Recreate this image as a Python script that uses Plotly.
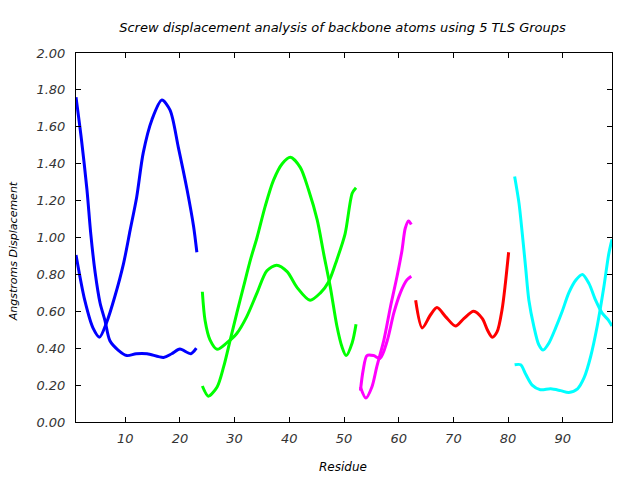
import plotly.graph_objects as go

# Group 1 (blue)
g1a_x = [1.0, 2.0, 3.0, 3.7, 4.5, 5.4, 6.3, 7.2, 8.7, 10.3, 12.0, 14.0, 17.0, 18.5, 20.0, 22.0, 23.0]
g1a_y = [1.76, 1.53, 1.26, 1.02, 0.81, 0.645, 0.55, 0.44, 0.39, 0.36, 0.37, 0.37, 0.35, 0.37, 0.395, 0.37, 0.40]
g1b_x = [1.0, 2.6, 4.1, 5.3, 6.6, 8.1, 9.7, 10.9, 12.1, 13.3, 14.9, 16.7, 18.2, 19.7, 21.3, 22.5, 23.1]
g1b_y = [0.905, 0.66, 0.51, 0.46, 0.54, 0.68, 0.86, 1.04, 1.22, 1.46, 1.64, 1.745, 1.69, 1.49, 1.26, 1.06, 0.92]

# Group 2 (green)
g2a_x = [24.1, 24.6, 25.5, 26.8, 28.6, 30.4, 32.2, 34.1, 35.9, 37.7, 39.6, 41.4, 43.8, 45.7, 47.2, 48.7, 50.2, 51.5, 52.2]
g2a_y = [0.706, 0.55, 0.445, 0.394, 0.43, 0.48, 0.57, 0.70, 0.82, 0.85, 0.815, 0.73, 0.66, 0.70, 0.76, 0.88, 1.02, 1.24, 1.27]
g2b_x = [24.1, 25.2, 26.8, 28.0, 29.2, 30.4, 31.6, 32.9, 34.1, 35.6, 37.1, 38.7, 40.2, 42.0, 43.5, 45.1, 46.3, 47.5, 48.7, 49.6, 50.4, 51.5, 52.2]
g2b_y = [0.195, 0.14, 0.19, 0.30, 0.445, 0.59, 0.73, 0.88, 1.00, 1.17, 1.31, 1.40, 1.435, 1.38, 1.26, 1.095, 0.91, 0.73, 0.52, 0.41, 0.36, 0.43, 0.53]

# Group 3 (magenta)
g3a_x = [53.0, 53.5, 54.2, 55.4, 56.6, 57.9, 59.1, 60.3, 61.5, 62.3]
g3a_y = [0.17, 0.28, 0.36, 0.36, 0.345, 0.44, 0.59, 0.70, 0.77, 0.79]
g3b_x = [53.0, 54.0, 55.1, 56.0, 57.3, 58.5, 59.7, 60.6, 61.2, 61.8, 62.3]
g3b_y = [0.19, 0.13, 0.19, 0.30, 0.445, 0.625, 0.79, 0.93, 1.05, 1.09, 1.07]

# Group 4 (red)
g4_x = [63.1, 64.3, 65.8, 67.0, 68.6, 70.4, 71.9, 73.7, 75.3, 76.2, 77.1, 78.0, 78.9, 79.5, 80.1]
g4_y = [0.66, 0.51, 0.58, 0.62, 0.57, 0.52, 0.56, 0.60, 0.56, 0.50, 0.46, 0.49, 0.61, 0.75, 0.92]

# Group 5 (cyan)
g5a_x = [81.2, 82.0, 82.6, 83.2, 83.8, 84.7, 85.6, 86.4, 87.5, 88.7, 89.9, 91.1, 92.4, 93.6, 94.8, 96.0, 97.2, 98.4, 99.0]
g5a_y = [1.33, 1.185, 1.02, 0.84, 0.66, 0.52, 0.42, 0.39, 0.43, 0.51, 0.60, 0.70, 0.77, 0.80, 0.75, 0.66, 0.59, 0.55, 0.52]
g5b_x = [81.2, 82.3, 83.2, 84.4, 85.9, 87.8, 89.6, 91.1, 92.7, 93.9, 95.1, 96.3, 97.5, 98.4, 99.0]
g5b_y = [0.31, 0.31, 0.26, 0.20, 0.175, 0.18, 0.17, 0.16, 0.18, 0.24, 0.355, 0.52, 0.73, 0.91, 0.99]

series = [
    (g1a_x, g1a_y, "#0000ff"), (g1b_x, g1b_y, "#0000ff"),
    (g2a_x, g2a_y, "#00ff00"), (g2b_x, g2b_y, "#00ff00"),
    (g3a_x, g3a_y, "#ff00ff"), (g3b_x, g3b_y, "#ff00ff"),
    (g4_x, g4_y, "#ff0000"),
    (g5a_x, g5a_y, "#00ffff"), (g5b_x, g5b_y, "#00ffff"),
]

x_ticks = [10, 20, 30, 40, 50, 60, 70, 80, 90]
y_ticks = [0.0, 0.2, 0.4, 0.6, 0.8, 1.0, 1.2, 1.4, 1.6, 1.8, 2.0]

fig = go.Figure()
for xs, ys, c in series:
    fig.add_trace(go.Scatter(x=xs, y=ys, mode="lines",
                             line=dict(color=c, width=3, shape="spline", smoothing=0.8),
                             showlegend=False, hoverinfo="skip"))

font_family = "DejaVu Sans"
fig.update_layout(
    width=640, height=480,
    margin=dict(l=76, r=28, t=53, b=58, autoexpand=False),
    paper_bgcolor="white", plot_bgcolor="white",
    title=dict(text="Screw displacement analysis of backbone atoms using 5 TLS Groups",
               x=342.5 / 640, xanchor="center", y=1 - 27 / 480, yanchor="middle",
               font=dict(family=font_family, size=13, color="black", style="italic")),
    font=dict(family=font_family, size=12, color="#222222"),
    annotations=[
        dict(text="Residue", x=0.498, y=-0.122, xref="paper", yref="paper",
             xanchor="center", yanchor="middle", showarrow=False,
             font=dict(family=font_family, size=12, color="black", style="italic")),
        dict(text="Angstroms Displacement", x=-0.1175, y=0.463, xref="paper", yref="paper",
             xanchor="center", yanchor="middle", showarrow=False, textangle=-90,
             font=dict(family=font_family, size=11, color="black", style="italic")),
    ],
)
fig.update_xaxes(range=[1, 99], tickvals=x_ticks, ticktext=[str(v) for v in x_ticks],
                 ticks="inside", ticklen=5, tickcolor="black", showline=True, linecolor="black",
                 linewidth=1, mirror="ticks", showgrid=False, zeroline=False,
                 ticklabelstandoff=4,
                 tickfont=dict(family=font_family, size=13, color="#333333", style="italic"))
fig.update_yaxes(range=[0, 2.0], tickvals=y_ticks, ticktext=[f"{v:.2f}" for v in y_ticks],
                 ticks="inside", ticklen=5, tickcolor="black", showline=True, linecolor="black",
                 linewidth=1, mirror="ticks", showgrid=False, zeroline=False,
                 ticklabelstandoff=7,
                 tickfont=dict(family=font_family, size=13, color="#333333", style="italic"))

fig.write_html("out.html")
